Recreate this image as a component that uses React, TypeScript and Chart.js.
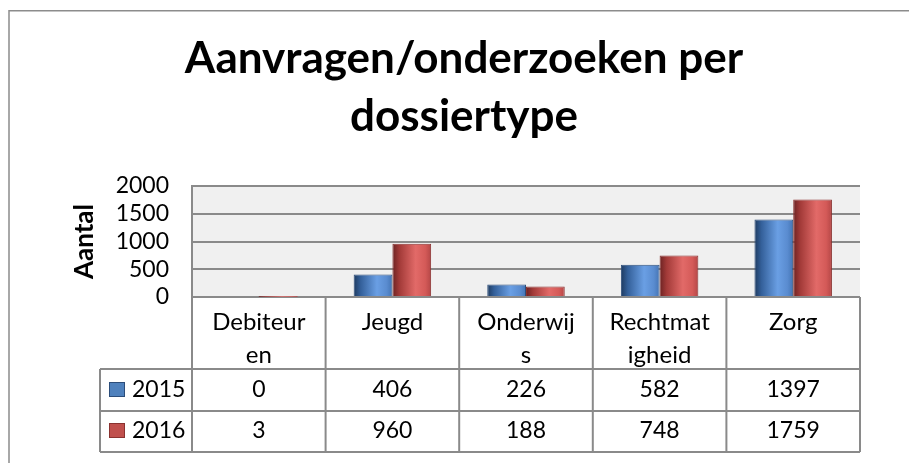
import React, { useEffect, useRef } from 'react';
import { Chart, registerables } from 'chart.js';

Chart.register(...registerables);

// ---- data ----
const categories = ['Debiteuren', 'Jeugd', 'Onderwijs', 'Rechtmatigheid', 'Zorg'];
const headerLines = [['Debiteur', 'en'], ['Jeugd'], ['Onderwij', 's'], ['Rechtmat', 'igheid'], ['Zorg']];
const seriesLabels = ['2015', '2016'];
const series2015 = [0, 406, 226, 582, 1397];
const series2016 = [3, 960, 188, 748, 1759];
const yMin = 0;
const yMax = 2000;
const yStep = 500;
const titleLines = ['Aanvragen/onderzoeken per', 'dossiertype'];
const yTitle = 'Aantal';

// ---- styles ----
const FONT = 'Lato';
const GRID = '#8a8a8a';
const BASE = ['#4f81bd', '#c0504d'];
const BORDER = ['#2c4d7a', '#8a3230'];
const GRADS: [number, string][][] = [
  [[0, '#1e3a5f'], [0.18, '#34609a'], [0.6, '#6a9fe4'], [0.85, '#5a8cd0'], [1, '#4474b4']],
  [[0, '#6b2222'], [0.18, '#a23a38'], [0.6, '#e26a68'], [0.85, '#d45a58'], [1, '#b44646']],
];

const bgPlugin = {
  id: 'bg',
  beforeDraw(chart: any) {
    const { ctx, chartArea, width, height } = chart;
    ctx.save();
    ctx.fillStyle = '#ffffff';
    ctx.fillRect(0, 0, width, height);
    ctx.fillStyle = '#f0f0f0';
    ctx.fillRect(chartArea.left, chartArea.top, chartArea.right - chartArea.left, chartArea.bottom - chartArea.top);
    // outer frame (extends beyond viewport)
    ctx.strokeStyle = '#8c8c8c';
    ctx.lineWidth = 1.5;
    ctx.beginPath();
    ctx.moveTo(9, height + 10);
    ctx.lineTo(9, 10.8);
    ctx.lineTo(width + 10, 10.8);
    ctx.stroke();
    ctx.restore();
  },
};

const gradientPlugin = {
  id: 'cyl',
  beforeDatasetsDraw(chart: any) {
    const ctx = chart.ctx;
    chart.data.datasets.forEach((_ds: any, di: number) => {
      const meta = chart.getDatasetMeta(di);
      meta.data.forEach((el: any) => {
        const { x, width } = el.getProps(['x', 'width'], true);
        const g = ctx.createLinearGradient(x - width / 2, 0, x + width / 2, 0);
        GRADS[di].forEach(([o, c]) => g.addColorStop(o, c));
        el.options.backgroundColor = g;
      });
    });
  },
};

const tablePlugin = {
  id: 'datatable',
  afterDraw(chart: any) {
    const { ctx, chartArea, scales } = chart;
    const xs = scales.x;
    const n = categories.length;
    const left = chartArea.left;
    const right = chartArea.right;
    const top = chartArea.bottom;
    const cw = (right - left) / n;
    const headerBottom = 369;
    const row1Bottom = 411;
    const row2Bottom = 452;
    const legendLeft = 100;
    ctx.save();
    ctx.strokeStyle = GRID;
    ctx.lineWidth = 2;
    ctx.beginPath();
    for (let i = 0; i <= n; i++) {
      const x = left + i * cw;
      ctx.moveTo(x, top);
      ctx.lineTo(x, row2Bottom);
    }
    [headerBottom, row1Bottom, row2Bottom].forEach((y) => {
      ctx.moveTo(legendLeft, y);
      ctx.lineTo(right, y);
    });
    ctx.moveTo(legendLeft, headerBottom);
    ctx.lineTo(legendLeft, row2Bottom);
    ctx.stroke();

    ctx.fillStyle = '#000';
    ctx.font = `24px ${FONT}`;
    ctx.textAlign = 'center';
    ctx.textBaseline = 'alphabetic';
    headerLines.forEach((lines, i) => {
      const cx = xs.getPixelForValue(i);
      lines.forEach((t, j) => ctx.fillText(t, cx, 330 + j * 33));
    });
    ctx.font = `23px ${FONT}`;
    const rows = [series2015, series2016];
    const baselines = [397, 438];
    rows.forEach((vals, r) => {
      vals.forEach((v, i) => {
        ctx.fillText(String(v), xs.getPixelForValue(i), baselines[r]);
      });
      // legend key
      const ky = baselines[r] - 15;
      ctx.fillStyle = BASE[r];
      ctx.fillRect(109, ky, 16, 15);
      ctx.strokeStyle = BORDER[r];
      ctx.lineWidth = 1;
      ctx.strokeRect(109.5, ky + 0.5, 15, 14);
      ctx.fillStyle = '#000';
      ctx.textAlign = 'left';
      ctx.fillText(seriesLabels[r], 132, baselines[r]);
      ctx.textAlign = 'center';
    });
    ctx.restore();
  },
};

export default function App() {
  const ref = useRef<HTMLCanvasElement>(null);
  useEffect(() => {
    const canvas = ref.current;
    if (!canvas) return;
    const chart = new Chart(canvas, {
      type: 'bar',
      data: {
        labels: categories,
        datasets: [
          {
            label: seriesLabels[0],
            data: series2015,
            backgroundColor: () => BASE[0],
            borderColor: BORDER[0],
            borderWidth: (c: any) => (c.raw < 20 ? 0 : 1),
          },
          {
            label: seriesLabels[1],
            data: series2016,
            backgroundColor: () => BASE[1],
            borderColor: BORDER[1],
            borderWidth: (c: any) => (c.raw < 20 ? 0 : 1),
          },
        ],
      },
      options: {
        responsive: false,
        animation: false,
        devicePixelRatio: 1,
        layout: { padding: { left: 68, right: 49, top: 0, bottom: 166 } },
        datasets: { bar: { categoryPercentage: 0.58, barPercentage: 1 } },
        scales: {
          x: { display: false },
          y: {
            min: yMin,
            max: yMax,
            ticks: {
              stepSize: yStep,
              autoSkip: false,
              color: '#000',
              font: { family: FONT, size: 23 },
              padding: 23,
              callback: (v: any) => String(v),
            },
            grid: { color: GRID, lineWidth: 2, drawTicks: false },
            border: { color: GRID, width: 2 },
            title: {
              display: true,
              text: yTitle,
              color: '#000',
              font: { family: FONT, size: 26, weight: 'bold', lineHeight: 1.2 },
              padding: { top: 1, bottom: 0 },
            },
            afterFit: (s: any) => {
              s.width = 124;
            },
          },
        },
        plugins: {
          legend: { display: false },
          tooltip: { enabled: false },
          title: {
            display: true,
            text: titleLines,
            color: '#000',
            font: { family: FONT, size: 44, weight: 'bold', lineHeight: 1.32 },
            padding: { top: 29.5, bottom: 40.4 },
          },
        },
      } as any,
      plugins: [bgPlugin, gradientPlugin, tablePlugin],
    });
    return () => chart.destroy();
  }, []);
  return (
    <div style={{ position: 'fixed', left: 0, top: 0, width: 909, height: 463, overflow: 'hidden' }}>
      <canvas ref={ref} width={909} height={463} style={{ display: 'block' }} />
    </div>
  );
}
